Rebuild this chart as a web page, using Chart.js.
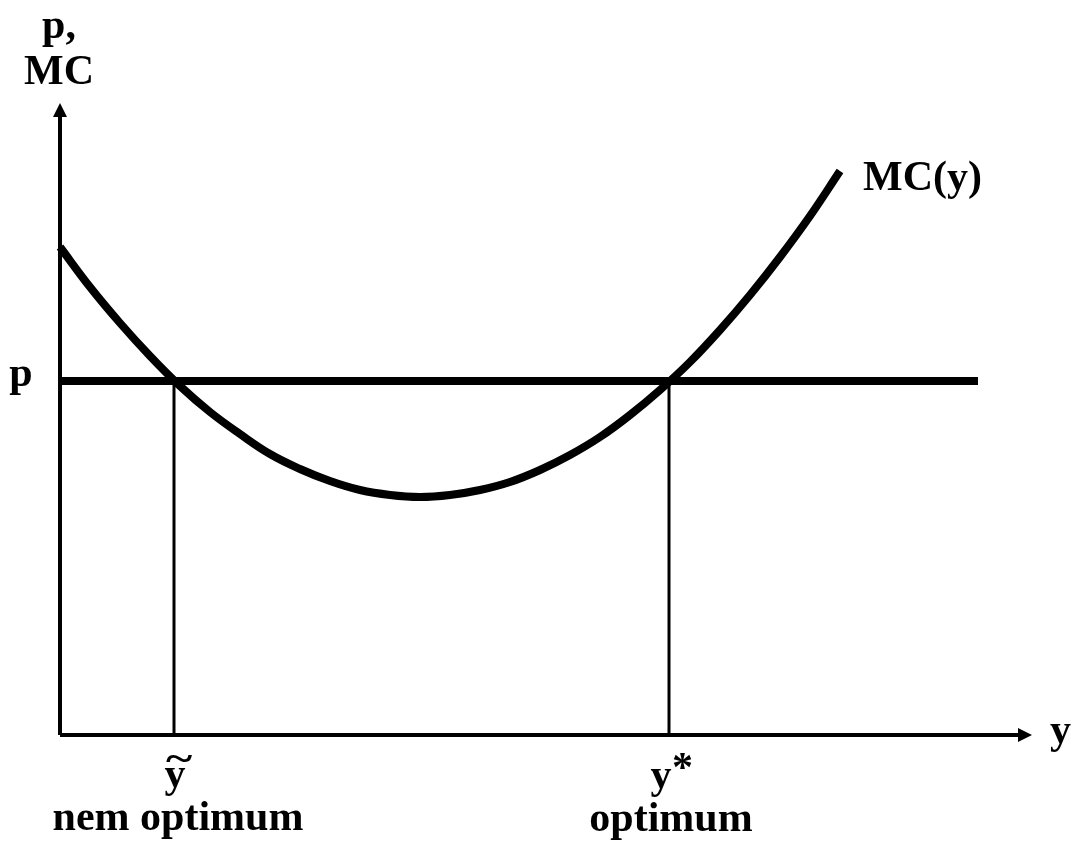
<!DOCTYPE html>
<html>
<head>
<meta charset="utf-8">
<script src="https://cdn.jsdelivr.net/npm/chart.js@4/dist/chart.umd.min.js"></script>
<style>
  html, body { margin: 0; padding: 0; background: #ffffff; }
  #wrap { width: 1074px; height: 843px; position: relative; }
</style>
</head>
<body>
<div id="wrap"><canvas id="c" width="1074" height="843"></canvas></div>
<script>
// ---- data (quantity y on x-axis, price / marginal cost on y-axis) ----
const mcX = [0, 3, 6, 9, 12, 15, 18, 21, 24, 27, 30, 33, 36, 39, 42, 45, 48, 51, 54, 57, 60, 63, 66, 69, 72, 75, 78];
const mcY = [48.8, 44.8, 41.2, 37.9, 34.9, 32.3, 30.1, 28.1, 26.6, 25.4, 24.5, 24.0, 23.8, 24.0, 24.5, 25.3, 26.5, 28.0, 29.8, 32.0, 34.5, 37.3, 40.5, 44.0, 47.8, 51.9, 56.4];
const priceP = 35.4;          // price level p
const priceLineEnd = 91.8;    // where the p line stops
const yTilde = 11.4;          // non-optimal output (first crossing)
const yStar = 60.9;           // optimal output (second crossing)
const xAxisMax = 97;
const yAxisMax = 63;

const labels = {
  yAxisTop1: 'p,',
  yAxisTop2: 'MC',
  pLabel: 'p',
  curve: 'MC(y)',
  xAxis: 'y',
  tildeBase: 'y',
  tildeMark: '~',
  tildeNote: 'nem optimum',
  star: 'y',
  starMark: '*',
  starNote: 'optimum'
};

const mcData = mcX.map((x, i) => ({ x: x, y: mcY[i] }));

const FONT = "bold 42px 'Liberation Serif', 'Times New Roman', serif";

const overlay = {
  id: 'overlay',
  afterDatasetsDraw(chart) {
    const ctx = chart.ctx;
    const xs = chart.scales.x, ys = chart.scales.y;
    const x0 = xs.getPixelForValue(0), y0 = ys.getPixelForValue(0);
    const xEnd = xs.getPixelForValue(xAxisMax), yTop = ys.getPixelForValue(yAxisMax);
    ctx.save();
    ctx.fillStyle = '#000';
    // arrowheads
    ctx.beginPath();
    ctx.moveTo(x0, yTop - 2);
    ctx.lineTo(x0 - 7, yTop + 12);
    ctx.lineTo(x0 + 7, yTop + 12);
    ctx.closePath();
    ctx.fill();
    ctx.beginPath();
    ctx.moveTo(xEnd + 2, y0);
    ctx.lineTo(xEnd - 12, y0 - 7);
    ctx.lineTo(xEnd - 12, y0 + 7);
    ctx.closePath();
    ctx.fill();

    // texts
    ctx.font = FONT;
    ctx.textBaseline = 'alphabetic';
    ctx.textAlign = 'center';
    ctx.fillText(labels.yAxisTop1, x0 - 1, 38);
    ctx.fillText(labels.yAxisTop2, x0 - 1, 84);
    ctx.fillText(labels.pLabel, 21, ys.getPixelForValue(priceP) + 5);
    ctx.textAlign = 'left';
    ctx.fillText(labels.curve, 863, 190);
    ctx.fillText(labels.xAxis, 1050, y0 + 8);

    ctx.textAlign = 'center';
    const tx = xs.getPixelForValue(yTilde);
    ctx.fillText(labels.tildeBase, tx + 1, y0 + 52);
    ctx.save();
    ctx.translate(tx + 5, y0 + 36);
    ctx.scale(1.2, 0.9);
    ctx.fillText(labels.tildeMark, 0, 0);
    ctx.restore();
    ctx.fillText(labels.tildeNote, tx + 4, 830);

    const sx = xs.getPixelForValue(yStar);
    ctx.fillText(labels.star, sx - 8, y0 + 53);
    ctx.textAlign = 'left';
    ctx.fillText(labels.starMark, sx + 3, y0 + 46);
    ctx.textAlign = 'center';
    ctx.fillText(labels.starNote, sx + 2, 831);
    ctx.restore();
  }
};

new Chart(document.getElementById('c'), {
  type: 'scatter',
  data: {
    datasets: [
      {
        label: 'MC(y)',
        data: mcData,
        showLine: true,
        borderColor: '#000',
        borderWidth: 8,
        borderJoinStyle: 'round',
        pointRadius: 0,
        tension: 0.4,
        clip: false
      },
      {
        label: 'p',
        data: [{ x: 0, y: priceP }, { x: priceLineEnd, y: priceP }],
        showLine: true,
        borderColor: '#000',
        borderWidth: 8,
        pointRadius: 0,
        clip: false
      },
      {
        label: 'ytilde',
        data: [{ x: yTilde, y: 0 }, { x: yTilde, y: priceP }],
        showLine: true,
        borderColor: '#000',
        borderWidth: 3,
        pointRadius: 0,
        clip: false
      },
      {
        label: 'ystar',
        data: [{ x: yStar, y: 0 }, { x: yStar, y: priceP }],
        showLine: true,
        borderColor: '#000',
        borderWidth: 3,
        pointRadius: 0,
        clip: false
      },
      {
        label: 'xaxis',
        data: [{ x: 0, y: 0 }, { x: xAxisMax - 0.8, y: 0 }],
        showLine: true,
        borderColor: '#000',
        borderWidth: 4,
        pointRadius: 0,
        clip: false
      },
      {
        label: 'yaxis',
        data: [{ x: 0, y: 0 }, { x: 0, y: yAxisMax - 0.8 }],
        showLine: true,
        borderColor: '#000',
        borderWidth: 4,
        pointRadius: 0,
        clip: false
      }
    ]
  },
  options: {
    responsive: false,
    animation: false,
    events: [],
    layout: { padding: { left: 60, right: 44, top: 105, bottom: 108 } },
    plugins: { legend: { display: false }, tooltip: { enabled: false } },
    scales: {
      x: { type: 'linear', min: 0, max: xAxisMax, display: false },
      y: { type: 'linear', min: 0, max: yAxisMax, display: false }
    }
  },
  plugins: [overlay]
});
</script>
</body>
</html>
